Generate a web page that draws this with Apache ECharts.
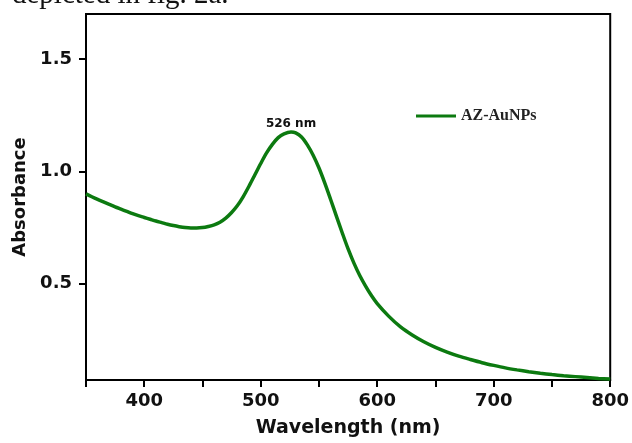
<!DOCTYPE html>
<html>
<head>
<meta charset="utf-8">
<script src="https://cdn.jsdelivr.net/npm/echarts@6/dist/echarts.min.js"></script>
<style>html,body{margin:0;padding:0;background:#fff;overflow:hidden;}#c{width:632px;height:443px;}</style>
</head>
<body>
<div id="c"></div>
<script>
const wavelengths = [350,355,360,365,370,375,380,385,390,395,400,405,410,415,420,425,430,435,440,445,450,455,460,465,470,475,480,485,490,495,500,505,510,515,520,526,530,535,540,545,550,555,560,565,570,575,580,585,590,595,600,610,620,630,640,650,660,670,680,690,700,710,720,730,740,750,760,770,780,790,800];
const absorbance = [0.900,0.887,0.875,0.864,0.853,0.842,0.832,0.822,0.812,0.803,0.795,0.787,0.779,0.772,0.765,0.759,0.754,0.750,0.748,0.748,0.750,0.755,0.762,0.774,0.792,0.817,0.848,0.888,0.935,0.985,1.035,1.082,1.120,1.150,1.167,1.175,1.171,1.153,1.118,1.072,1.015,0.948,0.875,0.800,0.726,0.655,0.592,0.537,0.490,0.448,0.412,0.355,0.308,0.272,0.242,0.217,0.196,0.178,0.163,0.149,0.137,0.126,0.117,0.109,0.102,0.096,0.091,0.087,0.083,0.079,0.076];
const yTicks = [0.5, 1.0, 1.5];
const seriesName = 'AZ-AuNPs';
const peakLabel = '526 nm';
const peak = [526, 1.175];
const xTitle = 'Wavelength (nm)';
const yTitle = 'Absorbance';
const caption = 'depicted in fig. 2a.';

const chart = echarts.init(document.getElementById('c'), null, {renderer: 'canvas'});
const boldSans = {fontFamily: '"DejaVu Sans", sans-serif', fontWeight: 'bold', color: '#111'};
chart.setOption({
  animation: false,
  backgroundColor: '#fff',
  grid: {left: 86, top: 14, right: 17, bottom: 57, show: true, borderColor: '#000', borderWidth: 2, containLabel: false},
  graphic: [{
    type: 'text', left: 12, top: -19,
    style: {text: caption, font: '29px "Liberation Serif", "Times New Roman", serif', fill: '#111'}
  }],
  legend: {
    left: 411, top: 103, itemWidth: 40, itemHeight: 3, icon: 'rect', itemGap: 6,
    data: [seriesName],
    textStyle: {fontFamily: '"Liberation Serif", "Times New Roman", serif', fontWeight: 'bold', fontSize: 16, color: '#222'}
  },
  xAxis: {
    type: 'value', min: 350, max: 800, interval: 50,
    name: xTitle, nameLocation: 'middle', nameGap: 39,
    nameTextStyle: Object.assign({fontSize: 19}, boldSans),
    axisLine: {show: true, lineStyle: {color: '#000', width: 2}},
    axisTick: {show: true, inside: false, length: 7, lineStyle: {color: '#000', width: 2}},
    axisLabel: Object.assign({fontSize: 18, margin: 12, formatter: v => (v % 100 === 0 ? String(v) : '')}, boldSans),
    splitLine: {show: false}
  },
  yAxis: {
    type: 'value', min: 0.072, max: 1.7,
    name: yTitle, nameLocation: 'middle', nameGap: 51,
    nameTextStyle: Object.assign({fontSize: 18}, boldSans),
    axisLine: {show: true, lineStyle: {color: '#000', width: 2}},
    axisTick: {show: true, length: 7, customValues: yTicks, lineStyle: {color: '#000', width: 2}},
    axisLabel: Object.assign({fontSize: 18, margin: 14, customValues: yTicks, formatter: v => v.toFixed(1)}, boldSans),
    splitLine: {show: false}
  },
  series: [{
    name: seriesName, type: 'line', smooth: 0.3, showSymbol: false, symbol: 'none',
    data: wavelengths.map((w, i) => [w, absorbance[i]]),
    lineStyle: {color: '#0c7a10', width: 3.5},
    itemStyle: {color: '#0c7a10'},
    markPoint: {
      symbol: 'circle', symbolSize: 0,
      data: [{coord: peak}],
      label: Object.assign({show: true, formatter: peakLabel, position: 'top', distance: 2, fontSize: 12}, boldSans)
    }
  }]
});
</script>
</body>
</html>
